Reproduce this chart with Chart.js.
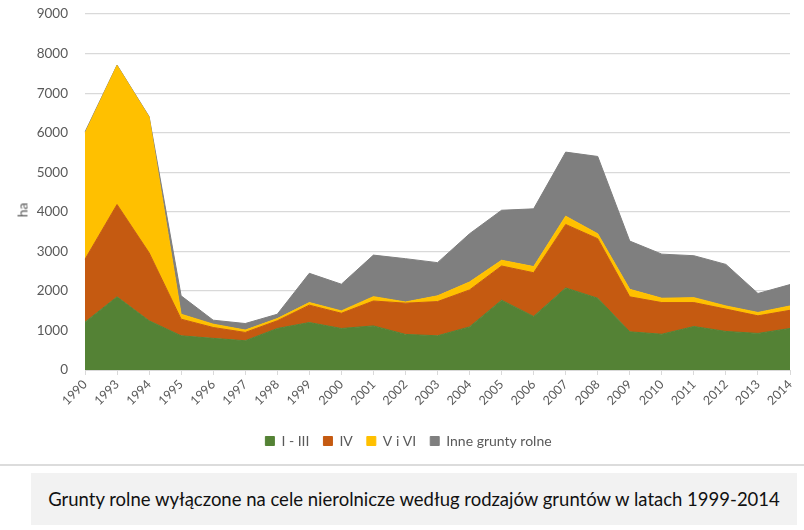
<!DOCTYPE html>
<html>
<head>
<meta charset="utf-8">
<script src="https://cdn.jsdelivr.net/npm/chart.js@4/dist/chart.umd.min.js"></script>
<style>
  html, body { margin: 0; padding: 0; background: #fff; }
  #wrap { position: relative; width: 804px; height: 530px; overflow: hidden; background: #fff; }
  #chartBox { position: absolute; left: 0; top: -11px; width: 804px; height: 471px; }
  #ytitle { position: absolute; left: 22px; top: 210px; transform: translate(-50%, -50%) rotate(-90deg);
            font-family: Lato, "Open Sans", sans-serif; font-size: 14px; color: #595959; }
  #sep { position: absolute; left: 0; top: 464px; width: 804px; height: 2px; background: #DCDCDC; }
  #caption { position: absolute; left: 31px; top: 473px; width: 766px; height: 52px; background: #F2F2F2;
             font-family: Lato, "Open Sans", sans-serif; font-size: 18.5px; color: #111;
             display: flex; align-items: center; justify-content: center; white-space: nowrap; }
</style>
</head>
<body>
<div id="wrap">
  <div id="chartBox"><canvas id="c" width="804" height="471"></canvas></div>
  <div id="ytitle">ha</div>
  <div id="sep"></div>
  <div id="caption">Grunty rolne wyłączone na cele nierolnicze według rodzajów gruntów w latach 1999-2014</div>
</div>
<script>
const years = ["1990","1993","1994","1995","1996","1997","1998","1999","2000","2001","2002","2003","2004","2005","2006","2007","2008","2009","2010","2011","2012","2013","2014"];
const klasyI_III = [1210,1850,1245,865,800,740,1050,1200,1050,1115,900,865,1090,1765,1355,2075,1815,965,905,1100,975,925,1050];
const klasaIV    = [1590,2335,1720,420,275,210,195,440,385,630,790,865,935,865,1105,1605,1505,885,800,605,565,445,460];
const klasyV_VI  = [3190,3515,3430,125,85,60,55,65,60,110,30,145,200,145,155,210,125,190,110,125,80,85,110];
const inne       = [30,10,15,465,100,165,110,740,675,1050,1095,840,1220,1265,1460,1620,1955,1220,1115,1060,1050,480,540];
const seriesNames = ["I - III","IV","V i VI","Inne grunty rolne"];
const yTicks = [0,1000,2000,3000,4000,5000,6000,7000,8000,9000];

const colors = ["#548235","#C55A11","#FFC000","#7F7F7F"];
const seriesData = [klasyI_III, klasaIV, klasyV_VI, inne];

const datasets = seriesData.map((d, i) => ({
  label: seriesNames[i],
  data: d,
  backgroundColor: colors[i],
  borderColor: colors[i],
  borderWidth: 1,
  pointRadius: 0,
  pointHoverRadius: 0,
  tension: 0,
  fill: i === 0 ? 'origin' : '-1'
}));

const fam = "Lato, 'Open Sans', sans-serif";

new Chart(document.getElementById('c'), {
  type: 'line',
  data: { labels: years, datasets },
  options: {
    responsive: false,
    animation: false,
    layout: { padding: { top: 4, right: 14, left: 27, bottom: 2 } },
    plugins: {
      legend: {
        position: 'bottom',
        labels: {
          boxWidth: 9, boxHeight: 9, padding: 14,
          color: '#595959',
          font: { family: fam, size: 14 }
        }
      },
      tooltip: { enabled: false }
    },
    scales: {
      x: {
        offset: false,
        grid: { drawOnChartArea: false, drawTicks: true, tickLength: 5, color: '#D9D9D9' },
        border: { display: true, color: '#D9D9D9', width: 1 },
        ticks: { color: '#595959', font: { family: fam, size: 12.5 }, maxRotation: 45, minRotation: 45, autoSkip: false, padding: 2 },
        afterFit: s => { s.height = 50; }
      },
      y: {
        stacked: true,
        min: 0, max: 9000,
        afterBuildTicks: s => { s.ticks = yTicks.map(v => ({ value: v })); },
        grid: { color: '#D9D9D9', lineWidth: 1.3, drawTicks: false },
        border: { display: false },
        ticks: { color: '#595959', font: { family: fam, size: 13.5 }, padding: 17, callback: v => String(v) },
        afterFit: s => { s.width = 58; }
      }
    }
  }
});
</script>
</body>
</html>
